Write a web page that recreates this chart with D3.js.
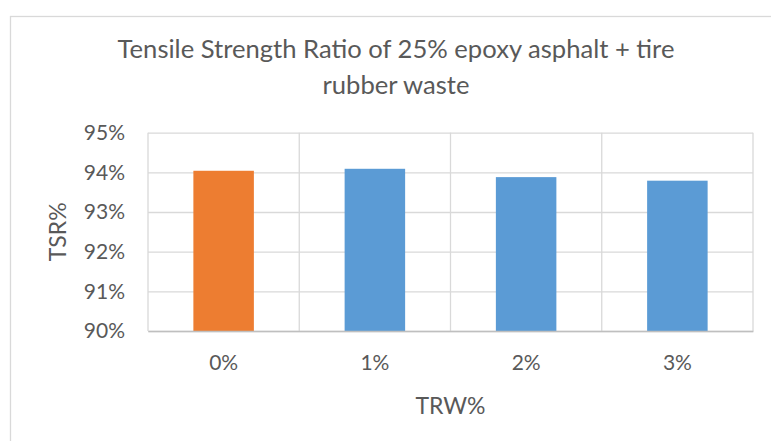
<!DOCTYPE html>
<html>
<head>
<meta charset="utf-8">
<script src="https://cdn.jsdelivr.net/npm/d3@7/dist/d3.min.js"></script>
<style>
  html, body { margin: 0; padding: 0; background: #fff; }
  svg { display: block; }
  text { font-family: Lato, "Open Sans", sans-serif; fill: #595959; }
</style>
</head>
<body>
<svg id="chart" width="771" height="441"></svg>
<script>
// Tensile strength ratio per tire rubber waste content
const categories = ["0%", "1%", "2%", "3%"];
const tsrValues = [94.04, 94.09, 93.88, 93.79];
const yTicks = [90, 91, 92, 93, 94, 95];
const barColors = ["#ED7D31", "#5B9BD5", "#5B9BD5", "#5B9BD5"];
const titleLines = ["Tensile Strength Ratio of 25% epoxy asphalt + tire", "rubber waste"];
const xTitle = "TRW%";
const yTitle = "TSR%";

const svg = d3.select("#chart");
const plot = { left: 148, right: 753, top: 132.7, bottom: 331 };
const gridColor = "#d9d9d9";

// chart frame
svg.append("rect")
  .attr("x", 10.5).attr("y", 16.5)
  .attr("width", 900).attr("height", 600)
  .attr("fill", "#fff")
  .attr("stroke", gridColor).attr("stroke-width", 1.3);

const x = d3.scaleBand()
  .domain(categories)
  .range([plot.left, plot.right])
  .paddingInner(0.6)
  .paddingOuter(0.3);

const y = d3.scaleLinear()
  .domain([90, 95])
  .range([plot.bottom, plot.top]);

// horizontal gridlines
svg.append("g")
  .attr("transform", `translate(${plot.left},0)`)
  .call(d3.axisLeft(y).tickValues(yTicks).tickSize(-(plot.right - plot.left)).tickFormat(""))
  .call(g => g.select(".domain").remove())
  .call(g => g.selectAll(".tick line").attr("stroke", gridColor).attr("stroke-width", 1.3));

// vertical gridlines at category boundaries
const boundaries = d3.range(categories.length + 1).map(i => x.range()[0] + i * x.step());
svg.append("g").selectAll("line")
  .data(boundaries)
  .join("line")
  .attr("x1", d => d).attr("x2", d => d)
  .attr("y1", plot.top).attr("y2", plot.bottom)
  .attr("stroke", gridColor).attr("stroke-width", 1.3);

// bars
svg.append("g").selectAll("rect")
  .data(categories.map((c, i) => ({ c, v: tsrValues[i], color: barColors[i] })))
  .join("rect")
  .attr("x", d => x(d.c))
  .attr("width", x.bandwidth())
  .attr("y", d => y(d.v))
  .attr("height", d => y(90) - y(d.v))
  .attr("fill", d => d.color);

// y axis labels
svg.append("g")
  .attr("transform", `translate(${plot.left},0)`)
  .call(d3.axisLeft(y).tickValues(yTicks).tickSize(0).tickPadding(23).tickFormat(d => d + "%"))
  .call(g => g.select(".domain").remove())
  .call(g => g.selectAll("text").style("font-size", "21px").attr("fill", "#595959"));

// x axis
svg.append("g")
  .attr("transform", `translate(0,${plot.bottom})`)
  .call(d3.axisBottom(x).tickSize(0).tickPadding(24))
  .call(g => g.select(".domain").attr("stroke", "#bfbfbf").attr("stroke-width", 1.3))
  .call(g => g.selectAll("text").style("font-size", "21px").attr("fill", "#595959"));

// title
svg.append("text")
  .attr("text-anchor", "middle")
  .style("font-size", "25.6px")
  .selectAll("tspan")
  .data(titleLines)
  .join("tspan")
  .attr("x", 396)
  .attr("y", (d, i) => 58 + i * 36)
  .text(d => d);

// axis titles
svg.append("text")
  .attr("x", (plot.left + plot.right) / 2)
  .attr("y", 414)
  .attr("text-anchor", "middle")
  .style("font-size", "23px")
  .attr("fill", "#404040")
  .text(xTitle);

svg.append("text")
  .attr("transform", `translate(66,${(plot.top + plot.bottom) / 2}) rotate(-90)`)
  .attr("text-anchor", "middle")
  .style("font-size", "23px")
  .attr("fill", "#404040")
  .text(yTitle);
</script>
</body>
</html>
